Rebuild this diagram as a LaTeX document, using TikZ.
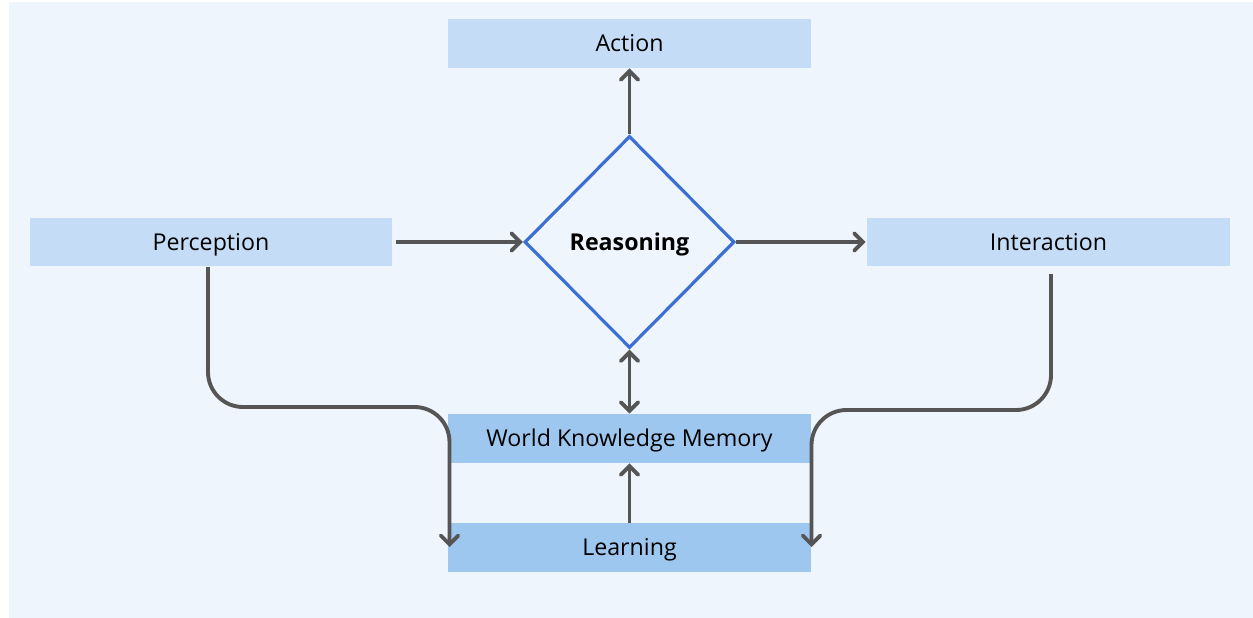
\documentclass[tikz,border=0pt]{standalone}
\usepackage{fontspec}
\setmainfont{Open Sans}
\usepackage{tikz}
\usetikzlibrary{arrows.meta,shapes.geometric,calc}

\definecolor{panelbg}{RGB}{239,245,253}
\definecolor{boxlight}{RGB}{197,220,246}
\definecolor{boxdark}{RGB}{158,199,240}
\definecolor{linkgray}{RGB}{85,85,85}
\definecolor{diamblue}{RGB}{59,111,214}

\tikzset{
  labelfont/.style={font=\fontsize{13.2}{15}\selectfont,text height=9.4pt,text depth=0pt},
  stagebox/.style={rectangle,fill=boxlight,minimum width=7.26cm,minimum height=0.98cm,
    inner sep=0pt,labelfont},
  corebox/.style={stagebox,fill=boxdark},
  decide/.style={diamond,draw=diamblue,line width=1.8pt,fill=panelbg,minimum width=4.2cm,
    minimum height=4.24cm,inner sep=0pt,labelfont,font=\fontsize{13.2}{15}\selectfont\bfseries},
  barb/.tip={Straight Barb[length=5pt,width=10pt,line cap=round]},
  link/.style={draw=linkgray,line width=2.2pt,-barb},
  bentlink/.style={link,rounded corners=0.7cm},
  twolink/.style={link,barb-barb}
}

\begin{document}
\begin{tikzpicture}[x=0.02cm,y=-0.02cm]
	\useasboundingbox (0,0) rectangle (1253,618);
	\fill[panelbg] (9,2) rectangle (1253,618);

	\node[stagebox] (act) at (629.5,43.5) {Action};
	\node[stagebox] (perc) at (211,242) {Perception};
	\node[stagebox] (inter) at (1048.5,242) {Interaction};
	\node[decide] (reas) at (629.5,242) {Reasoning};
	\node[corebox] (mem) at (629.5,438.5) {World Knowledge Memory};
	\node[corebox] (learn) at (629.5,547.5) {Learning};

	% free ends of the two side loops
	\coordinate (pL) at (208,267);
	\coordinate (iR) at (1051,274);
	\coordinate (pEnd) at (449.5,547);
	\coordinate (iEnd) at (811.5,547);

	\draw[link] ($(perc.east)+(3,0)$) -- (reas.west);
	\draw[link] (reas.east) -- ($(inter.west)+(-1,0)$);
	\draw[link] (reas.north) -- (act.south);
	\draw[twolink] (reas.south) -- (mem.north);
	\draw[link] (learn.north) -- (mem.south);
	\draw[bentlink] (pL) |- (pEnd |- 0,407) -- (pEnd);
	\draw[bentlink] (iR) |- (iEnd |- 0,410) -- (iEnd);
\end{tikzpicture}
\end{document}
